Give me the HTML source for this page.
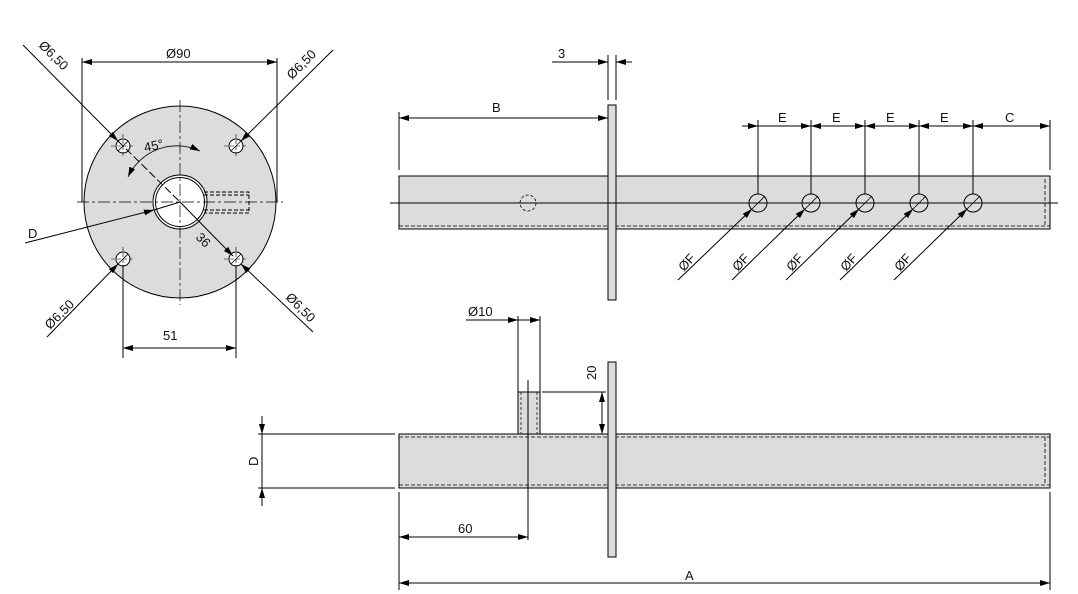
<!DOCTYPE html>
<html><head><meta charset="utf-8"><style>
html,body{margin:0;padding:0;background:#fff}
svg{display:block}
text{font-family:"Liberation Sans","DejaVu Sans",sans-serif;font-size:13px;fill:#111}
</style></head><body>
<svg width="1078" height="594" viewBox="0 0 1078 594" xmlns="http://www.w3.org/2000/svg">
<defs>
<marker id="a" viewBox="0 0 10 6" refX="10" refY="3" markerWidth="10" markerHeight="6" orient="auto-start-reverse" markerUnits="userSpaceOnUse"><path d="M0,0 L10,3 L0,6z" fill="#000"/></marker>
</defs>
<g stroke="#000" stroke-width="1" fill="none">
<!-- circle view -->
<circle cx="180" cy="202" r="96" fill="#dcdcdc"/>
<circle cx="180" cy="202" r="27" fill="#fff"/>
<circle cx="180" cy="202" r="24.5" fill="#fff"/>
<path d="M204,192 H249 V213 H204" stroke-dasharray="4,2"/>
<path d="M204,195 H249 M204,210 H249" stroke-dasharray="4,2"/>
<g stroke-dasharray="12,3,3,3" stroke-width="0.7">
<line x1="77" y1="202" x2="283" y2="202"/>
<line x1="180" y1="100" x2="180" y2="305"/>
</g>
<g fill="#fff">
<circle cx="123" cy="146" r="7"/><circle cx="236" cy="146" r="7"/>
<circle cx="123" cy="259" r="7"/><circle cx="236" cy="259" r="7"/>
</g>
<g stroke-width="0.6" stroke-dasharray="4,2">
<path d="M111,146 H135 M123,134 V158 M224,146 H248 M236,134 V158 M111,259 H135 M123,247 V271 M224,259 H248 M236,247 V271"/>
</g>
<g stroke-width="0.8">
<path d="M118,151 L128,141 M231,151 L241,141 M118,264 L128,254 M231,264 L241,254"/>
</g>
<line x1="23" y1="45" x2="118" y2="141" marker-end="url(#a)"/>
<line x1="333" y1="50" x2="241" y2="141" marker-end="url(#a)"/>
<line x1="47" y1="337" x2="118" y2="264" marker-end="url(#a)"/>
<line x1="313" y1="332" x2="241" y2="264" marker-end="url(#a)"/>
<line x1="118" y1="141" x2="180" y2="202" stroke-dasharray="8,3"/>
<line x1="25" y1="243" x2="154" y2="210" marker-end="url(#a)"/>
<line x1="154" y1="210" x2="180" y2="202"/>
<line x1="180" y1="202" x2="233" y2="256" marker-end="url(#a)"/>
<path d="M200,151 A54,54 0 0 0 128,177" marker-start="url(#a)" marker-end="url(#a)" stroke-width="0.8"/>
<line x1="82" y1="58" x2="82" y2="202"/><line x1="277" y1="58" x2="277" y2="202"/>
<line x1="82" y1="62" x2="277" y2="62" marker-start="url(#a)" marker-end="url(#a)"/>
<line x1="123" y1="265" x2="123" y2="358"/><line x1="236" y1="265" x2="236" y2="358"/>
<line x1="123" y1="348" x2="236" y2="348" marker-start="url(#a)" marker-end="url(#a)"/>

<!-- top side view -->
<rect x="399" y="176" width="651" height="53" fill="#dcdcdc"/>
<path d="M399,226 H1050 M1045,179 V226" stroke-dasharray="4,2" stroke-width="0.8"/>
<rect x="608" y="105" width="8" height="195" fill="#dcdcdc"/>
<line x1="390" y1="203" x2="1058" y2="203"/>
<circle cx="528" cy="203" r="8" stroke-dasharray="3,2" stroke-width="0.8"/>
<g>
<circle cx="758" cy="203" r="9"/><circle cx="811" cy="203" r="9"/><circle cx="865" cy="203" r="9"/><circle cx="919" cy="203" r="9"/><circle cx="973" cy="203" r="9"/>
</g>
<g stroke-width="0.8">
<path d="M751,210 L765,196 M804,210 L818,196 M858,210 L872,196 M912,210 L926,196 M966,210 L980,196"/>
</g>
<line x1="608" y1="55" x2="608" y2="100"/><line x1="616" y1="55" x2="616" y2="100"/>
<line x1="552" y1="62" x2="608" y2="62" marker-end="url(#a)"/>
<line x1="632" y1="62" x2="616" y2="62" marker-end="url(#a)"/>
<line x1="399" y1="112" x2="399" y2="170"/>
<line x1="399" y1="118" x2="608" y2="118" marker-start="url(#a)" marker-end="url(#a)"/>
<g>
<line x1="758" y1="120" x2="758" y2="194"/><line x1="811" y1="120" x2="811" y2="194"/><line x1="865" y1="120" x2="865" y2="194"/><line x1="919" y1="120" x2="919" y2="194"/><line x1="973" y1="120" x2="973" y2="194"/><line x1="1050" y1="120" x2="1050" y2="170"/>
</g>
<line x1="742" y1="126" x2="758" y2="126" marker-end="url(#a)"/>
<line x1="758" y1="126" x2="811" y2="126" marker-end="url(#a)"/>
<line x1="811" y1="126" x2="865" y2="126" marker-start="url(#a)" marker-end="url(#a)"/>
<line x1="865" y1="126" x2="919" y2="126" marker-start="url(#a)" marker-end="url(#a)"/>
<line x1="919" y1="126" x2="973" y2="126" marker-start="url(#a)" marker-end="url(#a)"/>
<line x1="973" y1="126" x2="1050" y2="126" marker-start="url(#a)" marker-end="url(#a)"/>
<line x1="678" y1="280" x2="752" y2="209" marker-end="url(#a)"/>
<line x1="732" y1="280" x2="805" y2="209" marker-end="url(#a)"/>
<line x1="786" y1="280" x2="859" y2="209" marker-end="url(#a)"/>
<line x1="840" y1="280" x2="913" y2="209" marker-end="url(#a)"/>
<line x1="894" y1="280" x2="967" y2="209" marker-end="url(#a)"/>

<!-- bottom view -->
<rect x="399" y="434" width="651" height="54" fill="#dcdcdc"/>
<path d="M399,437 H1050 M399,485 H1050 M1045,437 V485" stroke-dasharray="4,2" stroke-width="0.8"/>
<rect x="518" y="392" width="22" height="42" fill="#dcdcdc"/>
<path d="M521,392 V434 M537,392 V434" stroke-dasharray="3,2" stroke-width="0.7"/>
<rect x="608" y="362" width="8" height="195" fill="#dcdcdc"/>
<line x1="518" y1="316" x2="518" y2="392"/><line x1="540" y1="316" x2="540" y2="392"/>
<line x1="466" y1="320" x2="518" y2="320" marker-end="url(#a)"/>
<line x1="540" y1="320" x2="518" y2="320" marker-start="url(#a)"/>
<line x1="542" y1="392" x2="606" y2="392"/>
<line x1="602" y1="392" x2="602" y2="434" marker-start="url(#a)" marker-end="url(#a)"/>
<line x1="528" y1="380" x2="528" y2="540"/>
<line x1="258" y1="434" x2="395" y2="434"/><line x1="258" y1="488" x2="395" y2="488"/>
<line x1="262" y1="416" x2="262" y2="434" marker-end="url(#a)"/>
<line x1="262" y1="506" x2="262" y2="488" marker-end="url(#a)"/>
<line x1="262" y1="434" x2="262" y2="488"/>
<line x1="399" y1="492" x2="399" y2="590"/><line x1="1050" y1="492" x2="1050" y2="590"/>
<line x1="399" y1="537" x2="528" y2="537" marker-start="url(#a)" marker-end="url(#a)"/>
<line x1="399" y1="583" x2="1050" y2="583" marker-start="url(#a)" marker-end="url(#a)"/>
</g>
<!-- labels -->
<text x="166" y="58">Ø90</text>
<text x="163" y="340">51</text>
<text x="28" y="238">D</text>
<text transform="translate(38,46) rotate(45)">Ø6,50</text>
<text transform="translate(292,80) rotate(-45)">Ø6,50</text>
<text transform="translate(50,330) rotate(-45)">Ø6,50</text>
<text transform="translate(285,298) rotate(45)">Ø6,50</text>
<text transform="translate(145,152) rotate(-12)">45°</text>
<text transform="translate(195,238) rotate(45)">36</text>
<text x="558" y="58">3</text>
<text x="492" y="112">B</text>
<text x="778" y="122">E</text>
<text x="832" y="122">E</text>
<text x="886" y="122">E</text>
<text x="940" y="122">E</text>
<text x="1005" y="122">C</text>
<text transform="translate(684,272) rotate(-48)">ØF</text>
<text transform="translate(738,272) rotate(-48)">ØF</text>
<text transform="translate(792,272) rotate(-48)">ØF</text>
<text transform="translate(846,272) rotate(-48)">ØF</text>
<text transform="translate(900,272) rotate(-48)">ØF</text>
<text x="468" y="316">Ø10</text>
<text transform="translate(596,380) rotate(-90)">20</text>
<text transform="translate(258,466) rotate(-90)">D</text>
<text x="458" y="533">60</text>
<text x="685" y="580">A</text>
</svg>
</body></html>
